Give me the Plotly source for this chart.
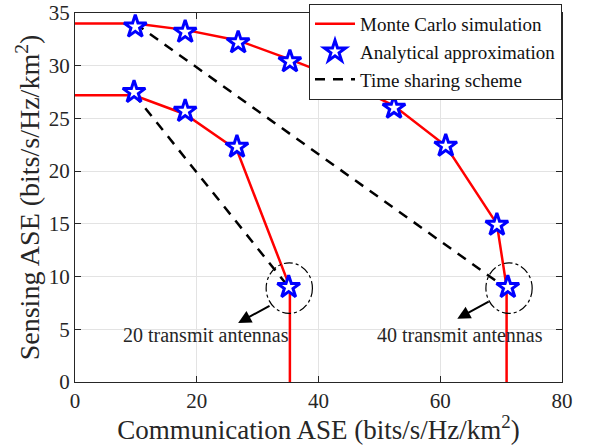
import plotly.graph_objects as go

# Monte Carlo simulation (red lines)
mc40_x = [0, 9.9, 18.1, 26.8, 35.3, 43.7, 52.4, 60.9, 69.3, 70.9, 70.9]
mc40_y = [34.0, 34.0, 33.4, 32.4, 30.6, 28.7, 26.2, 22.4, 15.0, 9.0, 0]
mc20_x = [0, 9.7, 18.1, 26.6, 35.3, 35.3]
mc20_y = [27.2, 27.2, 25.4, 22.0, 9.0, 0]

# Analytical approximation (stars)
an40_x = [9.9, 18.1, 26.8, 35.3, 43.7, 52.4, 60.9, 69.3, 71.1]
an40_y = [33.7, 33.2, 32.2, 30.4, 28.5, 26.0, 22.4, 14.9, 9.0]
an20_x = [9.7, 18.1, 26.6, 35.1]
an20_y = [27.5, 25.7, 22.3, 9.0]

# Time sharing scheme (dashed)
ts40_x = [9.9, 70.6]
ts40_y = [34.0, 9.0]
ts20_x = [9.7, 35.1]
ts20_y = [27.3, 9.0]

xticks = [0, 20, 40, 60, 80]
yticks = [0, 5, 10, 15, 20, 25, 30, 35]

FONT = "Liberation Serif"
TXT = "#262626"
fig = go.Figure()

red = dict(color="#ff0000", width=2.5)
dash = dict(color="black", width=2.5, dash="10px,8px")
star = dict(symbol="star", size=17, color="white", line=dict(color="#0000ff", width=3))

fig.add_trace(go.Scatter(x=mc20_x, y=mc20_y, mode="lines", line=red,
                         name="Monte Carlo simulation", legendgroup="mc", legendrank=1))
fig.add_trace(go.Scatter(x=mc40_x, y=mc40_y, mode="lines", line=red,
                         showlegend=False, legendgroup="mc"))
fig.add_trace(go.Scatter(x=ts20_x, y=ts20_y, mode="lines", line=dash,
                         name="Time sharing scheme", legendgroup="ts", legendrank=3))
fig.add_trace(go.Scatter(x=ts40_x, y=ts40_y, mode="lines", line=dash,
                         showlegend=False, legendgroup="ts"))
fig.add_trace(go.Scatter(x=an20_x, y=an20_y, mode="markers", marker=star,
                         name="Analytical approximation", legendgroup="an", legendrank=2))
fig.add_trace(go.Scatter(x=an40_x, y=an40_y, mode="markers", marker=star,
                         showlegend=False, legendgroup="an"))

# dash-dot circles
for cx in [35.2, 71.3]:
    fig.add_shape(type="circle", xref="x", yref="y",
                  x0=cx - 3.8, x1=cx + 3.8, y0=8.9 - 2.4, y1=8.9 + 2.4,
                  line=dict(color="black", width=1.2, dash="dashdot"))

# arrows
for (x0, y0, x1, y1) in [(32.2, 7.3, 26.8, 5.6), (68.2, 7.7, 62.8, 6.0)]:
    fig.add_annotation(x=x1, y=y1, ax=x0, ay=y0, xref="x", yref="y",
                       axref="x", ayref="y", showarrow=True, arrowhead=2,
                       arrowsize=1.3, arrowwidth=2, arrowcolor="black", text="")

fig.add_annotation(x=21.5, y=4.5, xref="x", yref="y", text="20 transmit antennas",
                   showarrow=False, font=dict(family=FONT, size=20, color=TXT))
fig.add_annotation(x=63.3, y=4.5, xref="x", yref="y", text="40 transmit antennas",
                   showarrow=False, font=dict(family=FONT, size=20, color=TXT))

axis_common = dict(showgrid=True, gridcolor="#e3e3e3", gridwidth=1,
                   showline=True, linecolor=TXT, linewidth=1.2, mirror="ticks",
                   ticks="inside", ticklen=6, tickcolor=TXT,
                   tickfont=dict(family=FONT, size=21, color=TXT),
                   zeroline=False, automargin=False)

fig.update_xaxes(range=[0, 80], tickvals=xticks, **axis_common,
                 title=dict(text="Communication ASE (bits/s/Hz/km<sup>2</sup>)",
                            font=dict(family=FONT, size=27, color=TXT), standoff=0))
fig.update_yaxes(range=[0, 35], tickvals=yticks, **axis_common,
                 title=dict(text="Sensing ASE (bits/s/Hz/km<sup>2</sup>)",
                            font=dict(family=FONT, size=28, color=TXT), standoff=0))

fig.update_layout(
    width=590, height=445, autosize=False,
    margin=dict(l=75, r=28, t=13, b=63, autoexpand=False),
    plot_bgcolor="white", paper_bgcolor="white",
    legend=dict(x=1.0, y=1.0244, xanchor="right", yanchor="top",
                bgcolor="white", bordercolor=TXT, borderwidth=1,
                font=dict(family=FONT, size=19, color="#111"),
                tracegroupgap=0, itemwidth=40),
)

fig.write_html("out.html", config={"displayModeBar": False},
               post_script="document.body.style.margin='0';document.body.style.overflow='hidden';")
